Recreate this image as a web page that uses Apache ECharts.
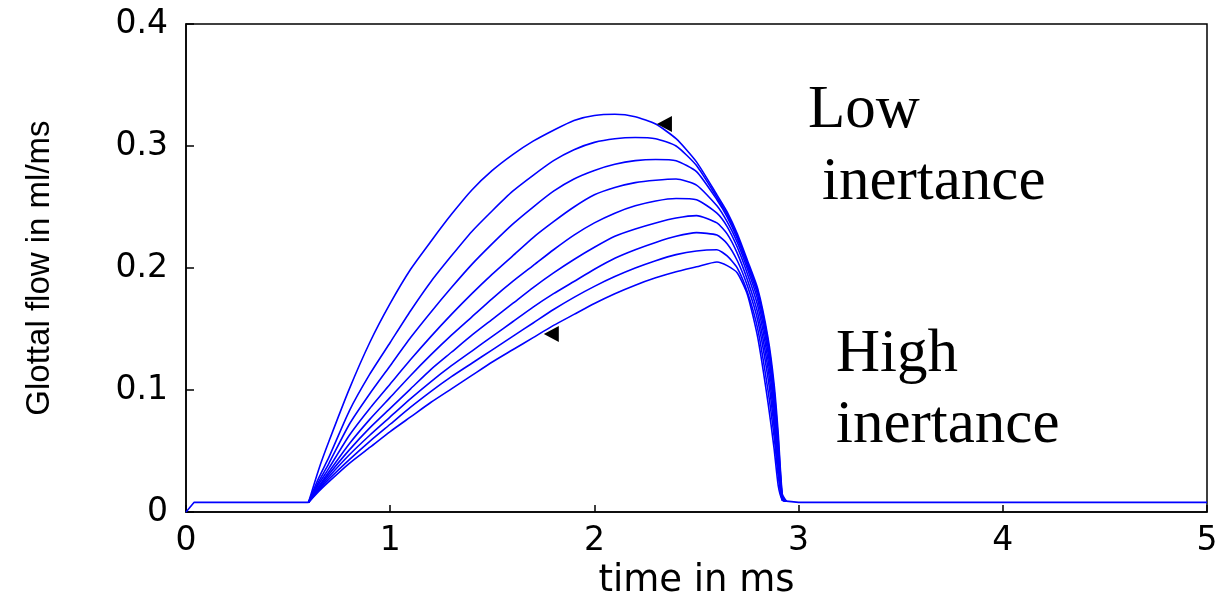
<!DOCTYPE html>
<html>
<head>
<meta charset="utf-8">
<script src="https://cdn.jsdelivr.net/npm/echarts@6/dist/echarts.min.js"></script>
<style>
html,body{margin:0;padding:0;background:#fff;}
#chart{width:1226px;height:605px;}
</style>
</head>
<body>
<div id="chart"></div>
<script>
// time samples (ms) for the glottal pulse curves
const times = [0.6, 0.65, 0.7, 0.8, 0.9, 1.0, 1.1, 1.2, 1.3, 1.4, 1.5, 1.6, 1.7, 1.8, 1.9, 2.0, 2.1, 2.2, 2.3, 2.4, 2.5, 2.6, 2.65, 2.7, 2.75, 2.8, 2.85, 2.88, 2.9, 2.92, 2.94];
// glottal flow (ml/ms), from low inertance (1) to high inertance (9)
const flow1 = [0.008, 0.035, 0.058, 0.101, 0.139, 0.171, 0.199, 0.222, 0.244, 0.264, 0.280, 0.293, 0.304, 0.313, 0.321, 0.325, 0.326, 0.324, 0.318, 0.306, 0.287, 0.260, 0.246, 0.228, 0.206, 0.183, 0.143, 0.105, 0.065, 0.015, 0.009];
const flow2 = [0.008, 0.028, 0.045, 0.083, 0.113, 0.139, 0.165, 0.189, 0.210, 0.230, 0.247, 0.263, 0.276, 0.288, 0.297, 0.303, 0.306, 0.307, 0.306, 0.300, 0.284, 0.258, 0.244, 0.226, 0.204, 0.181, 0.140, 0.100, 0.060, 0.013, 0.009];
const flow3 = [0.008, 0.025, 0.040, 0.072, 0.097, 0.120, 0.143, 0.164, 0.184, 0.203, 0.220, 0.236, 0.250, 0.263, 0.273, 0.280, 0.285, 0.288, 0.289, 0.288, 0.279, 0.256, 0.242, 0.224, 0.202, 0.178, 0.136, 0.096, 0.055, 0.012, 0.009];
const flow4 = [0.008, 0.023, 0.036, 0.063, 0.085, 0.105, 0.125, 0.144, 0.162, 0.179, 0.195, 0.210, 0.225, 0.238, 0.250, 0.260, 0.266, 0.270, 0.272, 0.273, 0.268, 0.251, 0.238, 0.221, 0.199, 0.174, 0.131, 0.090, 0.050, 0.011, 0.009];
const flow5 = [0.008, 0.021, 0.033, 0.056, 0.076, 0.094, 0.112, 0.129, 0.145, 0.160, 0.175, 0.189, 0.202, 0.215, 0.227, 0.237, 0.245, 0.251, 0.255, 0.257, 0.256, 0.245, 0.234, 0.217, 0.195, 0.169, 0.125, 0.084, 0.045, 0.010, 0.009];
const flow6 = [0.008, 0.020, 0.031, 0.051, 0.069, 0.085, 0.101, 0.117, 0.131, 0.145, 0.158, 0.171, 0.184, 0.196, 0.207, 0.217, 0.226, 0.232, 0.237, 0.241, 0.243, 0.237, 0.228, 0.212, 0.190, 0.163, 0.118, 0.077, 0.040, 0.010, 0.009];
const flow7 = [0.008, 0.019, 0.029, 0.047, 0.063, 0.078, 0.093, 0.107, 0.120, 0.132, 0.144, 0.156, 0.168, 0.179, 0.189, 0.199, 0.208, 0.215, 0.221, 0.226, 0.229, 0.227, 0.220, 0.206, 0.185, 0.157, 0.110, 0.070, 0.035, 0.010, 0.009];
const flow8 = [0.008, 0.018, 0.027, 0.043, 0.058, 0.072, 0.086, 0.099, 0.111, 0.122, 0.133, 0.144, 0.155, 0.166, 0.176, 0.185, 0.193, 0.200, 0.206, 0.211, 0.214, 0.215, 0.210, 0.200, 0.180, 0.150, 0.100, 0.062, 0.030, 0.010, 0.009];
const flow9 = [0.008, 0.017, 0.025, 0.040, 0.053, 0.066, 0.078, 0.090, 0.101, 0.112, 0.123, 0.133, 0.143, 0.153, 0.162, 0.171, 0.179, 0.186, 0.192, 0.197, 0.201, 0.205, 0.202, 0.196, 0.178, 0.143, 0.090, 0.052, 0.022, 0.010, 0.009];
// closed-glottis baseline before and after the pulse
const baseOpenTimes = [0, 0.04, 0.6];
const baseOpenFlow = [0, 0.008, 0.008];
const baseCloseTimes = [2.94, 3.0, 5.0];
const baseCloseFlow = [0.009, 0.008, 0.008];
// arrow-head markers
const markerTimes = [2.343, 1.789];
const markerFlow = [0.318, 0.146];
// axis ticks
const xTicks = [0, 1, 2, 3, 4, 5];
const yTicks = [0, 0.1, 0.2, 0.3, 0.4];

const curves = [flow1, flow2, flow3, flow4, flow5, flow6, flow7, flow8, flow9];
const pair = (xs, ys) => xs.map((x, i) => [x, ys[i]]);

const blue = '#0000ff';
const series = curves.map((c, k) => ({
  type: 'line',
  name: 'curve' + (k + 1),
  data: pair(times, c),
  smooth: 0.2,
  showSymbol: false,
  symbol: 'none',
  lineStyle: { color: blue, width: 1.6 },
  z: 3
}));
series.push({
  type: 'line', data: pair(baseOpenTimes, baseOpenFlow), symbol: 'none',
  lineStyle: { color: blue, width: 1.6 }, z: 3
});
series.push({
  type: 'line', data: pair(baseCloseTimes, baseCloseFlow), symbol: 'none',
  lineStyle: { color: blue, width: 1.6 }, z: 3
});
series.push({
  type: 'scatter', data: pair(markerTimes, markerFlow),
  symbol: 'triangle', symbolRotate: 90, symbolSize: [16, 15],
  itemStyle: { color: '#000', opacity: 1 }, z: 5
});

const chart = echarts.init(document.getElementById('chart'));
const tickFont = { fontFamily: 'DejaVu Sans', fontSize: 33, color: '#000' };
chart.setOption({
  animation: false,
  backgroundColor: '#fff',
  grid: { left: 186, right: 19, top: 24, bottom: 90, show: true, borderColor: '#000', borderWidth: 1.5 },
  xAxis: {
    type: 'value', min: xTicks[0], max: xTicks[xTicks.length - 1], interval: 1,
    name: 'time in ms', nameLocation: 'middle', nameGap: 44,
    nameTextStyle: { fontFamily: 'DejaVu Sans', fontSize: 37, color: '#000' },
    axisLine: { lineStyle: { color: '#000', width: 1.5 } },
    axisTick: { inside: true, length: 7, lineStyle: { color: '#000', width: 1.5 } },
    axisLabel: Object.assign({ margin: 13 }, tickFont),
    splitLine: { show: false }
  },
  yAxis: {
    type: 'value', min: yTicks[0], max: yTicks[yTicks.length - 1], interval: 0.1,
    name: 'Glottal flow in ml/ms', nameLocation: 'middle', nameGap: 130,
    nameTextStyle: { fontFamily: 'Liberation Sans', fontSize: 33, color: '#000' },
    axisLine: { lineStyle: { color: '#000', width: 1.5 } },
    axisTick: { inside: true, length: 8, lineStyle: { color: '#000', width: 1.5 } },
    axisLabel: Object.assign({ margin: 18, formatter: v => (v === 0 ? '0' : v.toFixed(1)) }, tickFont),
    splitLine: { show: false }
  },
  graphic: [
    { type: 'text', left: 808, top: 80, style: { text: 'Low', font: '61px "Liberation Serif"', fill: '#000' } },
    { type: 'text', left: 822, top: 152, style: { text: 'inertance', font: '61px "Liberation Serif"', fill: '#000' } },
    { type: 'text', left: 836, top: 324, style: { text: 'High', font: '61px "Liberation Serif"', fill: '#000' } },
    { type: 'text', left: 836, top: 395, style: { text: 'inertance', font: '61px "Liberation Serif"', fill: '#000' } }
  ],
  series: series
});
</script>
</body>
</html>
